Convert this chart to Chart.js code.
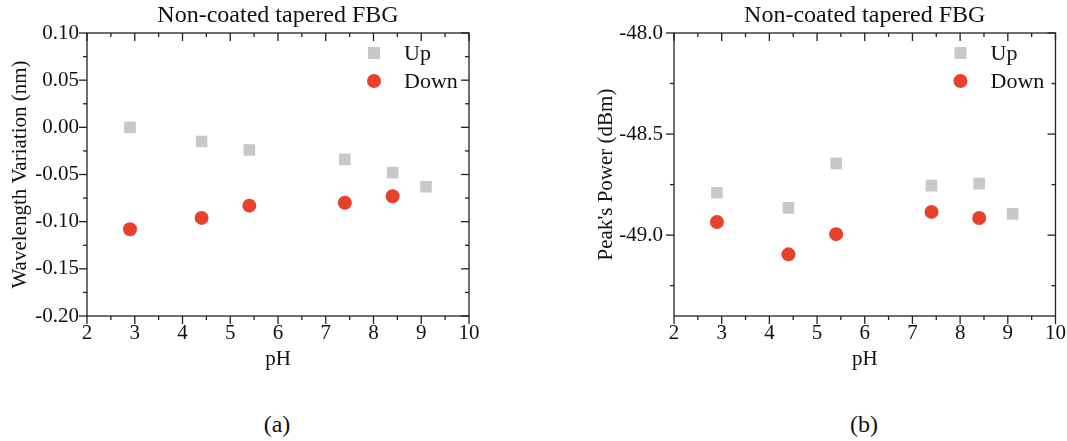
<!DOCTYPE html>
<html>
<head>
<meta charset="utf-8">
<script src="https://cdn.jsdelivr.net/npm/chart.js@4.4.0/dist/chart.umd.min.js"></script>
<style>
  body { margin: 0; background: #fff; width: 1067px; height: 441px; position: relative; overflow: hidden; }
  canvas { position: absolute; top: 0; }
  .cap { position: absolute; top: 410px; width: 80px; margin-left: -40px; text-align: center;
         font: 24px "Liberation Serif", serif; line-height: 28px; color: #111; }
</style>
</head>
<body>
<canvas id="chartA" width="533" height="380" style="left:0"></canvas>
<canvas id="chartB" width="538" height="380" style="left:533px"></canvas>
<div class="cap" style="left:277px">(a)</div>
<div class="cap" style="left:864px">(b)</div>
<script>
// pH values for the two sweeps
const phUp = [2.9, 4.4, 5.4, 7.4, 8.4, 9.1];
const phDown = [2.9, 4.4, 5.4, 7.4, 8.4];

// (a) wavelength variation, nm
const wlUp = [0.000, -0.015, -0.024, -0.034, -0.048, -0.063];
const wlDown = [-0.108, -0.096, -0.083, -0.080, -0.073];

// (b) peak power, dBm
const pwUp = [-48.79, -48.865, -48.645, -48.755, -48.745, -48.895];
const pwDown = [-48.935, -49.095, -48.995, -48.885, -48.915];

// tick labels
const phTicks = [2, 3, 4, 5, 6, 7, 8, 9, 10];
const wlTicks = [0.10, 0.05, 0.00, -0.05, -0.10, -0.15, -0.20];
const pwTicks = [-48.0, -48.5, -49.0];

const seriesNames = ['Up', 'Down'];
const chartTitle = 'Non-coated tapered FBG';

const SERIF = '"Liberation Serif", "Times New Roman", serif';
const GREY = '#c8c8c8';
const RED = '#e8412b';
const AXIS = '#222';

// frame, minor/major ticks, title and in-plot legend
const decor = {
  id: 'decor',
  afterDraw(chart, args, opts) {
    const { ctx, chartArea: a, scales: { x, y } } = chart;
    ctx.save();
    ctx.strokeStyle = AXIS;
    ctx.lineWidth = 1.3;
    ctx.strokeRect(a.left, a.top, a.right - a.left, a.bottom - a.top);

    const seg = (x1, y1, x2, y2) => { ctx.beginPath(); ctx.moveTo(x1, y1); ctx.lineTo(x2, y2); ctx.stroke(); };
    const isMajor = (v, step) => Math.abs(v / step - Math.round(v / step)) < 1e-6;

    for (let i = Math.ceil(x.min / opts.xMinor - 1e-9); i * opts.xMinor <= x.max + 1e-9; i++) {
      const v = i * opts.xMinor;
      const px = x.getPixelForValue(v);
      const len = isMajor(v, opts.xMajor) ? 8 : 4;
      seg(px, a.bottom, px, a.bottom + len);
      seg(px, a.top, px, a.top + len);
    }
    for (let i = Math.ceil(y.min / opts.yMinor - 1e-9); i * opts.yMinor <= y.max + 1e-9; i++) {
      const v = i * opts.yMinor;
      const py = y.getPixelForValue(v);
      const len = isMajor(v, opts.yMajor) ? 8 : 4;
      seg(a.left - len, py, a.left, py);
      seg(a.right - len, py, a.right, py);
    }

    // title
    ctx.fillStyle = '#111';
    ctx.font = '24px ' + SERIF;
    ctx.textAlign = 'center';
    ctx.textBaseline = 'middle';
    ctx.fillText(chartTitle, (a.left + a.right) / 2, 16);

    // legend
    const lx = a.right - 95;
    ctx.font = '22px ' + SERIF;
    ctx.textAlign = 'left';
    chart.data.datasets.forEach((ds, i) => {
      const ly = a.top + 20 + i * 28;
      ctx.fillStyle = ds.backgroundColor;
      ctx.beginPath();
      if (ds.pointStyle === 'rect') {
        ctx.rect(lx - 6, ly - 6, 12, 12);
      } else {
        ctx.arc(lx, ly, 7, 0, Math.PI * 2);
      }
      ctx.fill();
      ctx.fillStyle = '#111';
      ctx.fillText(ds.label, lx + 30, ly + 1);
    });
    ctx.restore();
  }
};

function makeChart(id, up, down, yMin, yMax, yTicks, yDigits, yTitle, yStep, padLeft, yWidth, padRight, yGap) {
  const toPts = (xs, ys) => xs.map((v, i) => ({ x: v, y: ys[i] }));
  return new Chart(document.getElementById(id).getContext('2d'), {
    type: 'scatter',
    data: {
      datasets: [
        { label: seriesNames[0], data: toPts(phUp, up), pointStyle: 'rect', pointRadius: 8.2,
          backgroundColor: GREY, borderWidth: 0 },
        { label: seriesNames[1], data: toPts(phDown, down), pointStyle: 'circle', pointRadius: 7,
          backgroundColor: RED, borderWidth: 0 }
      ]
    },
    options: {
      responsive: false,
      animation: false,
      layout: { padding: { left: padLeft, top: 33, right: padRight, bottom: 0 } },
      plugins: {
        legend: { display: false },
        tooltip: { enabled: false },
        decor: { xMinor: 0.5, xMajor: 1, yMinor: yStep / 2, yMajor: yStep }
      },
      scales: {
        x: {
          type: 'linear', min: 2, max: 10,
          afterBuildTicks: s => { s.ticks = phTicks.map(v => ({ value: v })); },
          afterFit: s => { s.height = 64; },
          grid: { display: false, drawTicks: false },
          border: { display: false },
          ticks: { color: '#111', font: { family: SERIF, size: 21 }, padding: 5, maxRotation: 0 },
          title: { display: true, text: 'pH', color: '#111', font: { family: SERIF, size: 21 }, padding: { top: 0, bottom: 8 } }
        },
        y: {
          min: yMin, max: yMax,
          afterBuildTicks: s => { s.ticks = yTicks.map(v => ({ value: v })); },
          afterFit: s => { s.width = yWidth; },
          grid: { display: false, drawTicks: false },
          border: { display: false },
          ticks: { color: '#111', font: { family: SERIF, size: 21 }, padding: yGap,
                   callback: v => Number(v).toFixed(yDigits) },
          title: { display: true, text: yTitle, color: '#111', font: { family: SERIF, size: 21 }, padding: { top: 4, bottom: 4 } }
        }
      }
    },
    plugins: [decor]
  });
}

makeChart('chartA', wlUp, wlDown, -0.20, 0.10, wlTicks, 2, 'Wavelength Variation (nm)', 0.05, 4, 83, 64, 8);
makeChart('chartB', pwUp, pwDown, -49.4, -48.0, pwTicks, 1, "Peak's Power (dBm)", 0.5, 57, 84, 4, 11);
</script>
</body>
</html>
